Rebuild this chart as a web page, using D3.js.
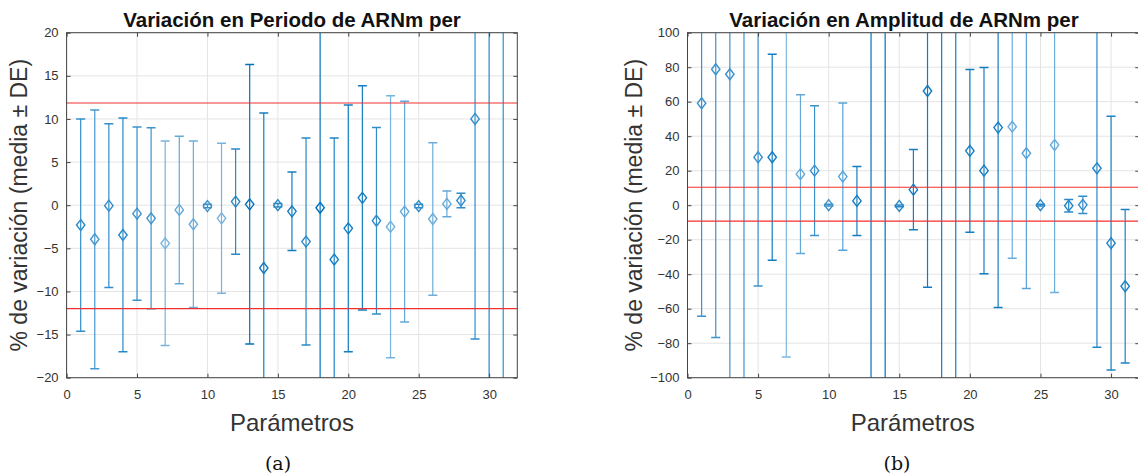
<!DOCTYPE html>
<html>
<head>
<meta charset="utf-8">
<script src="https://cdn.jsdelivr.net/npm/d3@7"></script>
<style>
body { margin: 0; background: #fff; }
text { font-family: "Liberation Sans", Arial, sans-serif; fill: #262626; }
</style>
</head>
<body>
<script>
// parameter index on the x axis
var params = [1, 2, 3, 4, 5, 6, 7, 8, 9, 10, 11, 12, 13, 14, 15, 16, 17, 18, 19, 20, 21, 22, 23, 24, 25, 26, 27, 28, 29, 30, 31];

// (a) period: mean and SD, % variation
var periodoMedia = [-2.3, -3.95, -0.05, -3.45, -0.98, -1.52, -4.42, -0.55, -2.21, -0.1, -1.52, 0.42, 0.1, -7.28, 0.0, -0.71,
	-4.22, -0.3, -6.3, -2.68, 0.85, -1.8, -2.5, -0.74, -0.1, -1.6, 0.15, 0.55, 10.0, 28, 32];
var periodoDE = [12.3, 15.0, 9.5, 13.55, 10.05, 10.5, 11.85, 8.55, 9.66, 0.2, 8.7, 6.1, 16.2, 17.97, 0.2, 4.55,
	12.0, 30, 14.1, 14.3, 13.0, 10.8, 15.2, 12.8, 0.2, 8.85, 1.5, 0.85, 25.5, 60, 70];
var periodoLimites = [11.85, -12.0];

// (b) amplitude: mean and SD, % variation
var amplitudMedia = [59.1, 78.8, 75.9, 130, 27.8, 27.8, 110, 18.0, 20.0, 0.0, 16.6, 2.5, 140, 160, -0.4, 9.0,
	66.2, 150, 120, 31.5, 20.0, 45.0, 45.5, 30.1, 0.0, 34.9, -0.3, 0.2, 21.4, -22.0, -47.0];
var amplitudDE = [123.5, 155.5, 190, 260, 74.6, 59.7, 198, 46, 37.6, 0.5, 42.7, 20, 300, 320, 0.5, 23.3,
	113.7, 300, 280, 47.2, 59.8, 104.3, 76.2, 78.4, 0.5, 85.5, 3.6, 5.0, 103.7, 73.5, 44.5];
var amplitudLimites = [10.4, -9.2];

var xTicks = [0, 5, 10, 15, 20, 25, 30];
var periodoYTicks = [-20, -15, -10, -5, 0, 5, 10, 15, 20];
var amplitudYTicks = [-100, -80, -60, -40, -20, 0, 20, 40, 60, 80, 100];

// how strong each error bar looks in the picture (0 light .. 1 full)
var periodoTono = [0.75, 0.65, 0.75, 0.8, 0.7, 0.7, 0.4, 0.5, 0.45, 0.7, 0.4, 0.8, 1, 0.9, 0.8, 0.9,
	0.8, 1, 0.85, 0.9, 0.9, 0.75, 0.4, 0.5, 0.75, 0.45, 0.5, 0.75, 0.75, 0.75, 0.75];
var amplitudTono = [0.7, 0.7, 0.7, 0.7, 0.7, 0.9, 0.35, 0.5, 0.7, 0.7, 0.55, 0.9, 1, 1, 0.8, 0.9,
	0.9, 0.9, 0.9, 0.9, 0.9, 0.9, 0.45, 0.55, 0.8, 0.45, 0.8, 0.75, 0.8, 0.85, 0.85];

var width = 1138,
	height = 476,
	blue = "#0072bd",
	lightBlue = "#c4def2";

var svg = d3.select("body")
	.append("svg")
	.attr("width", width)
	.attr("height", height);

var shade = d3.interpolateRgb(lightBlue, blue);

function panel(o) {
	var x = d3.scaleLinear().domain([0, 32]).range([o.left, o.right]);
	var y = d3.scaleLinear().domain(o.yDomain).range([o.bottom, o.top]);
	var g = svg.append("g");

	g.append("clipPath").attr("id", o.id)
		.append("rect")
		.attr("x", o.left).attr("y", o.top)
		.attr("width", o.right - o.left).attr("height", o.bottom - o.top);

	// grid
	g.selectAll(".gx").data(xTicks).enter().append("line")
		.attr("x1", function(d) { return x(d); }).attr("x2", function(d) { return x(d); })
		.attr("y1", o.top).attr("y2", o.bottom)
		.attr("stroke", "#e4e4e4");
	g.selectAll(".gy").data(o.yTicks).enter().append("line")
		.attr("x1", o.left).attr("x2", o.right)
		.attr("y1", function(d) { return y(d); }).attr("y2", function(d) { return y(d); })
		.attr("stroke", "#e4e4e4");

	var plot = g.append("g").attr("clip-path", "url(#" + o.id + ")");

	var bars = plot.selectAll(".bar")
		.data(params)
		.enter().append("g")
		.attr("stroke", function(d, i) { return shade(o.tono[i]); })
		.attr("fill", "none")
		.attr("stroke-width", 1.2);

	bars.append("line")
		.attr("x1", function(d) { return x(d); }).attr("x2", function(d) { return x(d); })
		.attr("y1", function(d, i) { return y(o.media[i] + o.de[i]); })
		.attr("y2", function(d, i) { return y(o.media[i] - o.de[i]); });

	[1, -1].forEach(function(s) {
		bars.append("line")
			.attr("x1", function(d) { return x(d) - 4.5; })
			.attr("x2", function(d) { return x(d) + 4.5; })
			.attr("y1", function(d, i) { return y(o.media[i] + s * o.de[i]); })
			.attr("y2", function(d, i) { return y(o.media[i] + s * o.de[i]); })
			.attr("stroke-width", 1.5);
	});

	bars.append("path")
		.attr("d", "M0,-5.5L4.2,0L0,5.5L-4.2,0Z")
		.attr("transform", function(d, i) { return "translate(" + x(d) + "," + y(o.media[i]) + ")"; })
		.attr("stroke-width", 1.4);

	// limit lines
	plot.selectAll(".lim").data(o.limites).enter().append("line")
		.attr("x1", o.left).attr("x2", o.right)
		.attr("y1", function(d) { return y(d); }).attr("y2", function(d) { return y(d); })
		.attr("stroke", "#f03030")
		.attr("stroke-width", 1.2);

	// box and inward ticks
	g.append("rect")
		.attr("x", o.left).attr("y", o.top)
		.attr("width", o.right - o.left).attr("height", o.bottom - o.top)
		.attr("fill", "none").attr("stroke", "#444").attr("stroke-width", 1);

	g.append("g").attr("transform", "translate(0," + o.bottom + ")")
		.call(d3.axisBottom(x).tickValues(xTicks).tickSizeInner(-4).tickSizeOuter(0).tickPadding(12))
		.call(style);
	g.append("g").attr("transform", "translate(0," + o.top + ")")
		.call(d3.axisTop(x).tickValues(xTicks).tickSizeInner(-4).tickSizeOuter(0).tickFormat(""))
		.call(style);
	g.append("g").attr("transform", "translate(" + o.left + ",0)")
		.call(d3.axisLeft(y).tickValues(o.yTicks).tickSizeInner(-4).tickSizeOuter(0).tickPadding(8))
		.call(style);
	g.append("g").attr("transform", "translate(" + o.right + ",0)")
		.call(d3.axisRight(y).tickValues(o.yTicks).tickSizeInner(-4).tickSizeOuter(0).tickFormat(""))
		.call(style);

	g.append("text")
		.attr("x", o.titleX).attr("y", 27)
		.attr("text-anchor", "middle")
		.attr("font-weight", "bold")
		.attr("font-size", 20.5)
		.style("fill", "#111")
		.text(o.title);

	g.append("text")
		.attr("x", (o.left + Math.min(o.right, width)) / 2).attr("y", 431)
		.attr("text-anchor", "middle")
		.attr("font-size", 24)
		.style("fill", "#333")
		.text("Parámetros");

	g.append("text")
		.attr("transform", "translate(" + o.ylabelX + "," + (o.top + o.bottom) / 2 + ") rotate(-90)")
		.attr("text-anchor", "middle")
		.attr("font-size", 23)
		.style("fill", "#333")
		.text("% de variación (media ± DE)");

	g.append("text")
		.attr("x", o.subX).attr("y", 470)
		.attr("text-anchor", "middle")
		.attr("font-size", 19)
		.style("font-family", "'DejaVu Serif', 'Liberation Serif', serif")
		.style("fill", "#111")
		.text(o.sub);
}

function style(sel) {
	sel.select(".domain").remove();
	sel.selectAll(".tick line").attr("stroke", "#444");
	sel.selectAll(".tick text")
		.attr("font-size", 13)
		.style("font-family", "'Liberation Sans', Arial, sans-serif")
		.style("fill", "#333");
}

panel({
	id: "clipA",
	left: 66.6, right: 517.3, top: 32.7, bottom: 377.7,
	yDomain: [-20, 20], yTicks: periodoYTicks,
	media: periodoMedia, de: periodoDE, tono: periodoTono, limites: periodoLimites,
	title: "Variación en Periodo de ARNm per", titleX: 292,
	ylabelX: 27, sub: "(a)", subX: 278
});

panel({
	id: "clipB",
	left: 687.5, right: 1139.3, top: 32.7, bottom: 377.7,
	yDomain: [-100, 100], yTicks: amplitudYTicks,
	media: amplitudMedia, de: amplitudDE, tono: amplitudTono, limites: amplitudLimites,
	title: "Variación en Amplitud de ARNm per", titleX: 904,
	ylabelX: 642, sub: "(b)", subX: 897
});
</script>
</body>
</html>
